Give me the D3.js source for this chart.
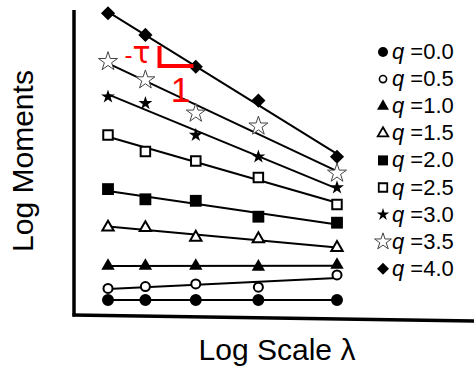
<!DOCTYPE html>
<html>
<head>
<meta charset="utf-8">
<script src="https://cdn.jsdelivr.net/npm/d3@7"></script>
<style>
  html, body { margin: 0; padding: 0; background: #fff; }
  svg { display: block; font-family: "Liberation Sans", Arial, sans-serif; }
</style>
</head>
<body>
<svg id="chart" width="474" height="368"></svg>
<script>
// ---- data ----
const logScale = [0, 0.98, 2.3, 3.94, 6.0];
const qLabels = ["0.0", "0.5", "1.0", "1.5", "2.0", "2.5", "3.0", "3.5", "4.0"];
const q00 = [0.33, 0.33, 0.33, 0.33, 0.33];
const q05 = [0.72, 0.78, 0.87, 0.76, 1.17];
const q10 = [1.47, 1.47, 1.47, 1.44, 1.50];
const q15 = [2.76, 2.74, 2.42, 2.37, 2.08];
const q20 = [4.03, 3.69, 3.64, 3.11, 2.91];
const q25 = [5.83, 5.28, 4.97, 4.42, 3.52];
const q30 = [7.11, 6.89, 5.83, 5.11, 4.08];
const q35 = [8.28, 7.67, 6.56, 6.13, 4.56];
const q40 = [9.89, 9.17, 8.11, 6.98, 5.11];
const seriesValues = [q00, q05, q10, q15, q20, q25, q30, q35, q40];
const xLabel = "Log Scale λ";
const yLabel = "Log Moments";

// ---- styles ----
const markerStyles = [
  { type: d3.symbolCircle,   size: 113, fill: "#000", stroke: "none", sw: 0,  lsize: 78,  lsw: 0 },
  { type: d3.symbolCircle,   size: 64,  fill: "#fff", stroke: "#000", sw: 2,  lsize: 40,  lsw: 1.6 },
  { type: d3.symbolTriangle, size: 78,  fill: "#000", stroke: "none", sw: 0,  lsize: 62,  lsw: 0 },
  { type: d3.symbolTriangle, size: 56,  fill: "#fff", stroke: "#000", sw: 2,  lsize: 48,  lsw: 1.8 },
  { type: d3.symbolSquare,   size: 140, fill: "#000", stroke: "none", sw: 0,  lsize: 100, lsw: 0 },
  { type: d3.symbolSquare,   size: 90,  fill: "#fff", stroke: "#000", sw: 2,  lsize: 72,  lsw: 1.8 },
  { type: d3.symbolStar,     size: 60,  fill: "#000", stroke: "none", sw: 0,  lsize: 48,  lsw: 0 },
  { type: d3.symbolStar,     size: 112, fill: "#fff", stroke: "#444", sw: 1,  lsize: 88,  lsw: 1 },
  { type: d3.symbolSquare,   size: 100, fill: "#000", stroke: "none", sw: 0,  lsize: 72,  lsw: 0, rot: 45 }
];

const svg = d3.select("#chart");
const x = d3.scaleLinear().domain([0, 6]).range([108, 337]);
const y = d3.scaleLinear().domain([0, 10]).range([310, 10]);

// axes frame (no ticks)
const axisLeft = 74, axisTop = 10, axisBottomL = 315, axisBottomR = 321;
svg.append("line").attr("x1", axisLeft).attr("y1", axisTop).attr("x2", axisLeft).attr("y2", axisBottomL + 1.5)
  .attr("stroke", "#000").attr("stroke-width", 3.5);
svg.append("line").attr("x1", axisLeft - 1.5).attr("y1", axisBottomL).attr("x2", 474).attr("y2", axisBottomR)
  .attr("stroke", "#000").attr("stroke-width", 3.5);

// regression lines
function fit(xs, ys) {
  const mx = d3.mean(xs), my = d3.mean(ys);
  let sxy = 0, sxx = 0;
  xs.forEach((xi, i) => { sxy += (xi - mx) * (ys[i] - my); sxx += (xi - mx) * (xi - mx); });
  const b = sxy / sxx;
  return v => my + b * (v - mx);
}
const line = d3.line().x(d => x(d[0])).y(d => y(d[1]));
seriesValues.forEach(vals => {
  const f = fit(logScale, vals);
  const x0 = logScale[0], x1 = logScale[logScale.length - 1];
  svg.append("path").attr("d", line([[x0, f(x0)], [x1, f(x1)]]))
    .attr("fill", "none").attr("stroke", "#000").attr("stroke-width", 2);
});

// markers
seriesValues.forEach((vals, si) => {
  const st = markerStyles[si];
  const sym = d3.symbol().type(st.type).size(st.size);
  svg.append("g").selectAll("path").data(vals).join("path")
    .attr("d", sym)
    .attr("transform", (d, i) => `translate(${x(logScale[i])},${y(d)})` + (st.rot ? ` rotate(${st.rot})` : ""))
    .attr("fill", st.fill).attr("stroke", st.stroke).attr("stroke-width", st.sw);
});

// annotation (slope triangle)
const red = "#ff0000";
const cx = x(1.35), cy = y(8.13);
svg.append("path").attr("d", `M${cx},${cy - 20} L${cx},${cy} L${cx + 34},${cy}`)
  .attr("fill", "none").attr("stroke", red).attr("stroke-width", 4);
const tau = svg.append("text").attr("x", cx - 9).attr("y", cy - 3).attr("text-anchor", "end").attr("fill", red);
tau.append("tspan").attr("font-size", 24).text("-");
tau.append("tspan").attr("font-family", "DejaVu Sans").attr("font-size", 30).text("τ");
svg.append("text").attr("x", cx + 21).attr("y", cy + 36).attr("text-anchor", "middle")
  .attr("font-size", 35).attr("fill", red).text("1");

// legend
const legX = 383, legY0 = 52, legDy = 27.1;
qLabels.forEach((lab, i) => {
  const st = markerStyles[i];
  const ly = legY0 + i * legDy;
  svg.append("path").attr("d", d3.symbol().type(st.type).size(st.lsize))
    .attr("transform", `translate(${legX},${ly})` + (st.rot ? ` rotate(${st.rot})` : ""))
    .attr("fill", st.fill).attr("stroke", st.stroke).attr("stroke-width", st.lsw);
  const t = svg.append("text").attr("x", legX + 9).attr("y", ly + 7).attr("font-size", 22).attr("fill", "#000");
  t.append("tspan").attr("font-style", "italic").text("q");
  t.append("tspan").text(" =" + lab);
});

// axis titles
svg.append("text").attr("x", 277).attr("y", 360).attr("text-anchor", "middle")
  .attr("font-size", 30).attr("fill", "#000").text(xLabel);
svg.append("text").attr("transform", "translate(33,161) rotate(-90)").attr("text-anchor", "middle")
  .attr("font-size", 30).attr("fill", "#000").text(yLabel);
</script>
</body>
</html>
